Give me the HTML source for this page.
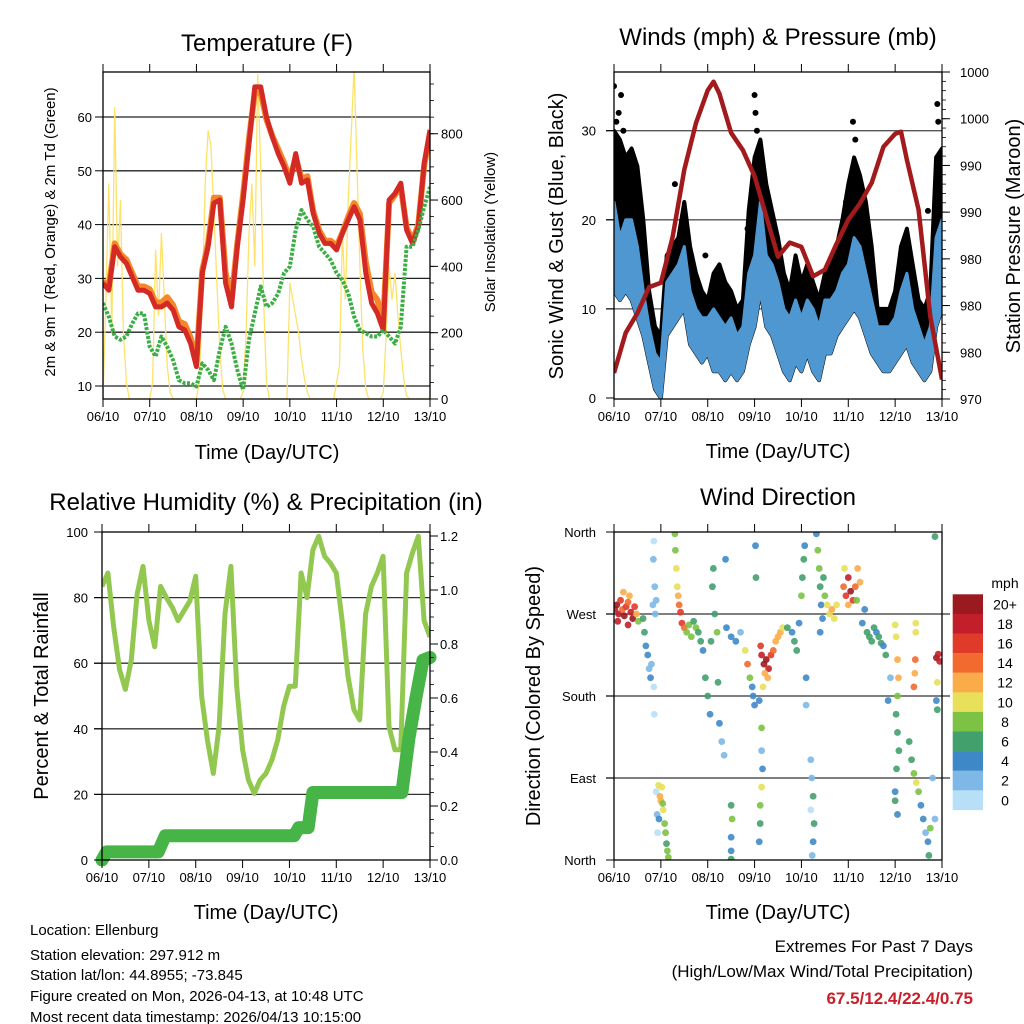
<!DOCTYPE html>
<html><head><meta charset="utf-8"><style>
html,body{margin:0;padding:0;background:#fff;}
svg{display:block;font-family:"Liberation Sans",sans-serif;}
</style></head><body>
<svg id="c" width="1024" height="1024" viewBox="0 0 1024 1024" xmlns="http://www.w3.org/2000/svg">
<defs>
<clipPath id="cp1"><rect x="103" y="72" width="327" height="327"/></clipPath>
<clipPath id="cp2"><rect x="614" y="72" width="328" height="327"/></clipPath>
<clipPath id="cp3"><rect x="102" y="532" width="328" height="328"/></clipPath>
<clipPath id="cp4"><rect x="614" y="532" width="328" height="328"/></clipPath>
</defs>
<g id="titles" font-size="24" text-anchor="middle" fill="#000">
<text x="267" y="51">Temperature (F)</text>
<text x="778" y="45">Winds (mph) &amp; Pressure (mb)</text>
<text x="266" y="510">Relative Humidity (%) &amp; Precipitation (in)</text>
<text x="778" y="505">Wind Direction</text>
</g>
<g font-size="20" text-anchor="middle">
<text x="267" y="459">Time (Day/UTC)</text>
<text x="778" y="458">Time (Day/UTC)</text>
<text x="266" y="919">Time (Day/UTC)</text>
<text x="778" y="919">Time (Day/UTC)</text>
<text font-size="15" transform="translate(55,232) rotate(-90)">2m &amp; 9m T (Red, Orange) &amp; 2m Td (Green)</text>
<text font-size="15" transform="translate(495,232) rotate(-90)">Solar Insolation (Yellow)</text>
<text transform="translate(563,236) rotate(-90)">Sonic Wind &amp; Gust (Blue, Black)</text>
<text transform="translate(1020,236) rotate(-90)">Station Pressure (Maroon)</text>
<text transform="translate(48,696) rotate(-90)">Percent &amp; Total Rainfall</text>
<text transform="translate(540,696) rotate(-90)">Direction (Colored By Speed)</text>
</g>
<g font-size="15" fill="#000">
<text x="30" y="935">Location: Ellenburg</text>
<text x="30" y="960">Station elevation: 297.912 m</text>
<text x="30" y="980">Station lat/lon: 44.8955; -73.845</text>
<text x="30" y="1001">Figure created on Mon, 2026-04-13, at 10:48 UTC</text>
<text x="30" y="1022">Most recent data timestamp: 2026/04/13 10:15:00</text>
</g>
<g font-size="17" text-anchor="end">
<text x="973" y="952">Extremes For Past 7 Days</text>
<text x="973" y="977">(High/Low/Max Wind/Total Precipitation)</text>
<text x="973" y="1004" font-weight="bold" fill="#c8202a">67.5/12.4/22.4/0.75</text>
</g>
<g id="layer"></g>
</svg>
<script>
const dayLabels=["06/10","07/10","08/10","09/10","10/10","11/10","12/10","13/10"];
const tempT=[29.1,27.8,35.9,34,32.8,30.3,27.8,27.8,27.2,24.7,24.7,25.4,24.1,21,20.4,17.9,13.6,31,35.9,44,44.6,29.1,24.7,35.9,44.6,55,65.6,65.6,60,56.3,53.2,50.8,47.7,53.2,47.7,48.3,42.1,38.4,36.5,36.5,35.3,38.4,40.9,43.3,40.9,31,25.4,23.5,20.4,44.6,45.8,47.7,39,36.5,39.6,51.4,57.6];
const temp9m=[29.5,28.5,36.5,34.5,33.5,31,28.5,28.5,28,25.5,25.5,26.5,25,22,21.5,19,14.5,31.5,36.5,45,45,31,26,36.5,45.5,56,64.5,64.5,59.5,56.5,54,51.5,48.5,52.5,48.5,49,42.5,39,37,37,36,38.5,41.5,44,42,33,27.5,26,22,44,45.5,47,39.5,37,40,51,57];
const dewT=[25.4,22.9,19.2,18.6,19.2,21.6,23.5,23.5,17.3,15.5,19.2,17.3,14.8,11.1,10.5,10.5,9.9,14.2,13,11.1,16.7,21,17.9,13,9.3,18.6,23.5,28.5,24.7,25.4,27.2,31,32.2,39,42.7,40.9,39.6,35.9,34.7,33.4,31,29.7,27.2,22.9,20.4,19.8,19.2,19.2,20.4,19.2,17.9,21,35.9,35.9,39,43.3,47];
const solar=[0,300,650,200,880,400,600,200,50,0,0,0,0,0,0,0,
0,50,450,250,500,300,100,20,0,0,0,0,0,0,0,0,
0,50,300,650,810,760,560,350,150,30,0,0,0,0,0,0,
20,200,500,650,400,980,700,300,50,0,0,0,0,0,0,0,
350,300,250,200,120,60,20,0,0,0,0,0,0,0,0,0,
50,100,500,300,600,800,1000,700,400,150,30,0,0,0,0,0,
20,200,400,300,380,250,150,60,10,0,0,0,0,0,0,0,0];
const tempTicks=[10,20,30,40,50,60];
const solarTicks=[0,200,400,600,800];
const windHigh=[22,18,20,20,17,12,8,5,4,13,14,15,17,12,10,9,9,10,9,8,9,7,8,14,16,22,16,15,13,10,9,11,9,11,10,8,11,11,12,14,15,18,17,14,11,8,8,8,9,12,14,10,8,6,8,18,20];
const windLow=[12,11,12,11,9,7,4,1,0,7,8,9,10,6,5,4,5,3,3,2,3,2,3,6,8,12,8,7,5,3,2,4,3,5,3,2,5,5,7,8,9,10,9,7,5,4,3,3,4,5,6,4,3,2,3,8,10];
const gustHigh=[30,29,27,28,26,20,12,8,7,16,17,18,22,17,14,12,11,14,15,13,12,10,11,21,27,29,24,21,18,14,12,16,13,15,13,11,14,15,17,20,24,27,25,22,17,10,10,10,12,17,19,15,11,10,12,27,28];
const gustT=[0,0.15,0.05,0.1,3.0,3.02,3.05,5.1,5.15,1.3,6.9,6.92,3.2,2.9,1.95,6.7,0.2,2.85,4.95];
const gustV=[35,34,31,32,34,32,30,31,29,24,33,31,19,20,16,21,30,19,22];
const tPres=[0,0.25,0.5,0.75,1.0,1.25,1.5,1.75,2.0,2.125,2.25,2.5,2.75,3.0,3.25,3.5,3.75,4.0,4.25,4.5,4.75,5.0,5.25,5.5,5.75,6.0,6.125,6.25,6.5,6.75,7.0];
const pres=[972.3,976,977.8,980.2,980.6,984.8,991,995.3,998.3,999.1,998,994.4,992.8,990.4,986.7,983,984.3,983.9,981.2,981.8,984.2,986.4,987.9,989.8,993.1,994.3,994.5,991.9,987.3,977.5,971.7];
const windTicks=[0,10,20,30];
const presLabels=["970","980","980","980","990","990","1000","1000"];
const rh=[83.4,87.5,71,58,52,61,81,89.5,73,65,83.4,80,77,73,76,79,86.5,50,36.6,26.4,40.7,75,89.5,53,33.6,24.4,20.3,24.4,26.4,30.5,36.6,46.8,53,53,87.5,80,94.6,98.7,92.6,90.5,87.5,73,56,45.8,42.7,75,83.4,87.5,92.6,40.7,33.6,33.6,87.5,93.6,98.7,73,68];
const tPrecip=[0,0.1,1.2,1.35,4.1,4.2,4.4,4.5,6.4,6.55,6.7,6.85,7.0];
const precip=[0,0.03,0.03,0.09,0.09,0.12,0.12,0.25,0.25,0.45,0.6,0.74,0.75];
const rhTicks=[0,20,40,60,80,100];
const precipTicks=["0.0","0.2","0.4","0.6","0.8","1.0","1.2"];
const dirLabels=["North","East","South","West","North"];
const dirT=[0.02,0.06,0.1,0.14,0.18,0.22,0.26,0.3,0.33,0.36,0.4,0.44,0.48,0.52,0.08,0.3,0.2,
0.62,0.65,0.68,0.72,0.75,0.78,0.8,0.83,0.85,0.86,0.84,0.87,0.85,0.88,0.9,
0.9,0.92,0.93,0.95,0.98,1.0,1.02,1.05,1.08,1.1,1.12,1.14,1.16,0.96,1.04,
1.3,1.31,1.33,1.35,1.37,1.39,1.42,1.45,1.5,1.55,1.6,1.65,1.7,1.75,1.8,
1.85,1.9,1.95,2.0,2.05,2.07,2.1,2.12,2.15,2.2,2.22,2.25,2.3,2.35,2.38,
2.5,2.52,2.5,2.5,2.5,
2.4,2.5,2.6,2.7,2.8,2.85,2.9,2.95,2.97,3.0,3.02,3.03,3.1,3.15,3.15,3.17,3.15,3.12,3.12,3.1,
3.15,3.2,3.25,3.3,3.35,3.22,3.28,3.4,3.45,3.5,3.55,3.6,3.18,3.13,
3.7,3.8,3.85,3.9,3.95,4.0,4.02,4.05,4.07,4.1,4.1,4.2,4.22,4.25,4.27,4.25,4.23,4.2,
4.32,4.35,4.38,4.4,4.42,4.45,4.5,4.55,4.6,4.65,4.7,4.75,4.4,4.47,
4.9,4.95,5.0,5.05,5.1,5.15,5.2,5.25,5.0,4.92,5.18,
5.3,5.35,5.4,5.45,5.5,5.55,5.6,5.65,5.7,5.75,5.8,5.85,5.9,
6.0,6.02,6.05,6.07,6.05,6.02,6.05,6.08,6.03,6.0,6.0,6.05,6.3,6.35,6.4,6.45,6.5,6.55,6.6,6.65,6.7,6.72,6.75,6.8,6.85,
6.88,6.92,6.95,6.9,6.88,6.9,6.85,6.44,6.44,6.43,6.42,6.4];
const dirV=[275,280,270,285,275,268,278,283,290,272,265,278,270,262,262,258,294,
265,250,235,225,210,200,215,280,190,160,330,300,350,270,285,
75,50,30,82,70,65,80,55,40,30,18,10,3,45,62,
358,340,320,300,290,280,272,260,255,250,258,245,262,255,250,
240,230,200,180,160,240,300,320,270,250,195,150,130,115,330,
60,45,25,10,1,
255,245,240,250,230,215,200,190,180,170,345,310,175,145,120,100,80,60,40,20,
225,215,220,210,225,205,200,230,240,245,250,255,190,235,
255,250,240,230,260,290,310,330,345,200,170,110,90,70,40,20,5,55,
358,340,320,300,280,265,290,280,270,275,265,280,250,310,
300,290,310,295,285,300,320,305,280,320,285,
260,275,250,245,240,255,250,245,238,235,225,175,200,
258,245,220,200,180,160,140,120,100,75,65,50,130,110,95,85,75,60,45,30,20,5,35,90,45,
222,226,218,195,175,165,355,260,250,220,205,190];
const dirS=[18,20,19,16,14,21,17,15,13,18,20,16,12,9,18,18,13,
6,6,5,4,3,4,2,3,1,1,2,2,1,3,2,
1,2,1,11,12,13,10,10,9,8,7,8,9,4,8,
8,9,10,10,12,14,16,17,14,9,8,9,7,8,7,
6,5,6,6,4,6,6,6,7,8,6,4,2,3,4,
6,8,5,4,6,
4,5,4,3,10,14,8,5,4,4,4,6,4,8,3,4,11,8,6,4,
18,20,21,19,17,13,12,14,12,13,12,10,10,16,
6,5,7,6,5,8,6,6,5,4,2,2,3,7,6,5,2,1,
4,8,8,6,4,4,9,10,11,12,10,11,4,6,
15,16,18,20,17,14,12,13,12,10,9,
4,5,6,6,6,6,5,6,6,4,6,4,3,
10,10,13,12,8,6,7,6,6,4,6,5,6,6,9,10,8,4,4,3,4,6,8,3,2,
20,19,18,10,4,6,6,10,10,14,12,14];
const speedColors=["#b7e0f8","#7db8e6","#3f88c8","#42a06c","#7cc245","#e8e05a","#fbac4a","#f26a2e","#e03a2a","#c21f2a","#9b1a1f"];
const speedLabels=["0","2","4","6","8","10","12","14","16","18","20+"];

const NS="http://www.w3.org/2000/svg";
const layer=document.getElementById('layer');
function mk(tag,attrs,parent){const e=document.createElementNS(NS,tag);for(const k in attrs)e.setAttribute(k,attrs[k]);(parent||layer).appendChild(e);return e;}
function txt(s,x,y,anchor,size,parent){const e=mk('text',{x:x,y:y,'text-anchor':anchor,'font-size':size},parent);e.textContent=s;return e;}
function pts(xs,ys){return xs.map((x,i)=>x.toFixed(1)+','+ys[i].toFixed(1)).join(' ');}
const step8=i=>i*0.125;

// ---------- Panel 1: temperature ----------
const P1={x0:103,x1:430,y0:72,y1:399};
const x1=t=>P1.x0+t*(P1.x1-P1.x0)/7;
const yT=v=>386-(v-10)*5.38;
const yS=s=>399-s*0.3316;
const g1=mk('g',{});


tempTicks.forEach(v=>{const l=mk('line',{x1:P1.x0,x2:P1.x1,y1:yT(v),y2:yT(v),stroke:'#222','stroke-width':1.3},g1);});
const c1=mk('g',{'clip-path':'url(#cp1)'},g1);
const sol=mk('polyline',{points:pts(solar.map((_,i)=>x1(i/16)),solar.map(yS)),fill:'none',stroke:'#fde26a','stroke-width':1.3},c1);


const tOr=mk('polyline',{points:pts(temp9m.map((_,i)=>x1(step8(i))),temp9m.map(yT)),fill:'none',stroke:'#f5862a','stroke-width':6,'stroke-linejoin':'round'},c1);


const tRd=mk('polyline',{points:pts(tempT.map((_,i)=>x1(step8(i))),tempT.map(yT)),fill:'none',stroke:'#d42a25','stroke-width':5,'stroke-linejoin':'round'},c1);


const dw=mk('polyline',{points:pts(dewT.map((_,i)=>x1(step8(i))),dewT.map(yT)),fill:'none',stroke:'#3cae45','stroke-width':4,'stroke-dasharray':'3,1.5','stroke-linejoin':'round'},c1);


mk('rect',{x:P1.x0,y:P1.y0,width:P1.x1-P1.x0,height:P1.y1-P1.y0,fill:'none',stroke:'#000','stroke-width':1.3},g1);
dayLabels.forEach((d,i)=>{const x=x1(i);mk('line',{x1:x,x2:x,y1:P1.y1,y2:P1.y1+8,stroke:'#000'},g1);mk('line',{x1:x,x2:x,y1:P1.y0,y2:P1.y0-8,stroke:'#000'},g1);const e=txt(d,x,421,'middle',13,g1);});
tempTicks.forEach(v=>{mk('line',{x1:P1.x0-8,x2:P1.x0,y1:yT(v),y2:yT(v),stroke:'#000'},g1);const e=txt(String(v),92,yT(v)+5,'end',13,g1);});
solarTicks.forEach(v=>{mk('line',{x1:P1.x1,x2:P1.x1+8,y1:yS(v),y2:yS(v),stroke:'#000'},g1);const e=txt(String(v),441,yS(v)+5,'start',13,g1);});
for(let s=50;s<1000;s+=50){if(yS(s)>P1.y0)mk('line',{x1:P1.x1,x2:P1.x1+4,y1:yS(s),y2:yS(s),stroke:'#000','stroke-width':0.8},g1);}

// ---------- Panel 2: winds ----------
const P2={x0:614,x1:942,y0:72,y1:399};
const x2=t=>P2.x0+t*(P2.x1-P2.x0)/7;
const yW=v=>398-v*8.91;
const yP=p=>398-(p-970)*10.87;
const g2=mk('g',{});


windTicks.slice(1).forEach(v=>{const l=mk('line',{x1:P2.x0-8,x2:P2.x1,y1:yW(v),y2:yW(v),stroke:'#555','stroke-width':1.3},g2);});
const c2=mk('g',{'clip-path':'url(#cp2)'},g2);
const wx=windHigh.map((_,i)=>x2(step8(i)));
const gb=mk('polygon',{points:pts(wx,gustHigh.map(yW))+' '+pts(wx.slice().reverse(),windLow.slice().reverse().map(yW)),fill:'#000',stroke:'#000','stroke-width':4,'stroke-linejoin':'round'},c2);


gustT.forEach((t,i)=>{const d=mk('circle',{cx:x2(t),cy:yW(gustV[i]),r:3,fill:'#000'},c2);});
const wb=mk('polygon',{points:pts(wx,windHigh.map(yW))+' '+pts(wx.slice().reverse(),windLow.slice().reverse().map(yW)),fill:'#4f97d1',stroke:'#4f97d1','stroke-width':3,'stroke-linejoin':'round'},c2);


const pl=mk('polyline',{points:pts(tPres.map(x2),pres.map(yP)),fill:'none',stroke:'#a31a1d','stroke-width':4.5,'stroke-linejoin':'round'},c2);


mk('rect',{x:P2.x0,y:P2.y0,width:P2.x1-P2.x0,height:P2.y1-P2.y0,fill:'none',stroke:'#000','stroke-width':1.3},g2);
dayLabels.forEach((d,i)=>{const x=x2(i);mk('line',{x1:x,x2:x,y1:P2.y1,y2:P2.y1+8,stroke:'#000'},g2);mk('line',{x1:x,x2:x,y1:P2.y0,y2:P2.y0-8,stroke:'#000'},g2);const e=txt(d,x,421,'middle',13,g2);});
windTicks.forEach(v=>{mk('line',{x1:P2.x0-8,x2:P2.x0,y1:yW(v),y2:yW(v),stroke:'#000'},g2);const e=txt(String(v),596,yW(v)+5,'end',13,g2);});
presLabels.forEach((s,i)=>{const y=P2.y1-i*(P2.y1-P2.y0)/7;mk('line',{x1:P2.x1,x2:P2.x1+8,y1:y,y2:y,stroke:'#000'},g2);const e=txt(s,960,y+5,'start',13,g2);});
for(let i=0;i<35;i++){const y=P2.y1-i*(P2.y1-P2.y0)/35;mk('line',{x1:P2.x1,x2:P2.x1+4,y1:y,y2:y,stroke:'#000','stroke-width':0.8},g2);}

// ---------- Panel 3: RH & precip ----------
const P3={x0:102,x1:430,y0:532,y1:860};
const x3=t=>P3.x0+t*(P3.x1-P3.x0)/7;
const yR=v=>860-v*3.28;
const yPr=p=>860-p*270;
const g3=mk('g',{});


rhTicks.slice(1,5).forEach(v=>{const l=mk('line',{x1:P3.x0-8,x2:P3.x1,y1:yR(v),y2:yR(v),stroke:'#333','stroke-width':1.3},g3);});
const c3=mk('g',{'clip-path':'url(#cp3)'},g3);
const rl=mk('polyline',{points:pts(rh.map((_,i)=>x3(step8(i))),rh.map(yR)),fill:'none',stroke:'#92c850','stroke-width':5,'stroke-linejoin':'round'},c3);


const pr=mk('polyline',{points:pts(tPrecip.map(x3),precip.map(yPr)),fill:'none',stroke:'#46b446','stroke-width':13,'stroke-linejoin':'round','stroke-linecap':'round'},g3);


mk('rect',{x:P3.x0,y:P3.y0,width:P3.x1-P3.x0,height:P3.y1-P3.y0,fill:'none',stroke:'#000','stroke-width':1.3},g3);
dayLabels.forEach((d,i)=>{const x=x3(i);mk('line',{x1:x,x2:x,y1:P3.y1,y2:P3.y1+8,stroke:'#000'},g3);mk('line',{x1:x,x2:x,y1:P3.y0,y2:P3.y0-8,stroke:'#000'},g3);const e=txt(d,x,882,'middle',13,g3);});
rhTicks.forEach(v=>{mk('line',{x1:P3.x0-8,x2:P3.x0,y1:yR(v),y2:yR(v),stroke:'#000'},g3);const e=txt(String(v),88,yR(v)+5,'end',13,g3);});
precipTicks.forEach(s=>{const y=yPr(parseFloat(s));mk('line',{x1:P3.x1,x2:P3.x1+8,y1:y,y2:y,stroke:'#000'},g3);const e=txt(s,440,y+5,'start',13,g3);});
for(let p=0.05;p<1.2;p+=0.05){mk('line',{x1:P3.x1,x2:P3.x1+4,y1:yPr(p),y2:yPr(p),stroke:'#000','stroke-width':0.8},g3);}

// ---------- Panel 4: wind direction ----------
const P4={x0:614,x1:942,y0:532,y1:860};
const x4=t=>P4.x0+t*(P4.x1-P4.x0)/7;
const yD=d=>860-d*(328/360);
const g4=mk('g',{});


[90,180,270].forEach(d=>{const l=mk('line',{x1:P4.x0-8,x2:P4.x1+8,y1:yD(d),y2:yD(d),stroke:'#333','stroke-width':1.3},g4);});
const c4=mk('g',{'clip-path':'url(#cp4)'},g4);
function sc(s){return speedColors[Math.min(10,Math.max(0,Math.floor(s/2)))];}
dirT.forEach((t,i)=>{const d=mk('circle',{cx:x4(t),cy:yD(dirV[i]),r:3.4,fill:sc(dirS[i]),'fill-opacity':0.9},c4);});
mk('rect',{x:P4.x0,y:P4.y0,width:P4.x1-P4.x0,height:P4.y1-P4.y0,fill:'none',stroke:'#000','stroke-width':1.3},g4);
dayLabels.forEach((d,i)=>{const x=x4(i);mk('line',{x1:x,x2:x,y1:P4.y1,y2:P4.y1+8,stroke:'#000'},g4);mk('line',{x1:x,x2:x,y1:P4.y0,y2:P4.y0-8,stroke:'#000'},g4);const e=txt(d,x,882,'middle',13,g4);});
dirLabels.forEach((s,i)=>{const y=yD(i*90);mk('line',{x1:P4.x0-8,x2:P4.x0,y1:y,y2:y,stroke:'#000'},g4);const e=txt(s,596,y+5,'end',13,g4);});
const lg=mk('g',{});


const mphT=txt('mph',1005,588,'middle',14,lg);


speedColors.slice().reverse().forEach((c,k)=>{const y=594.3+k*19.6;const r=mk('rect',{x:952.7,y:y,width:30.3,height:19.8,fill:c},lg);const e=txt(speedLabels[10-k],1005,y+15,'middle',14,lg);});
</script>
</body></html>
